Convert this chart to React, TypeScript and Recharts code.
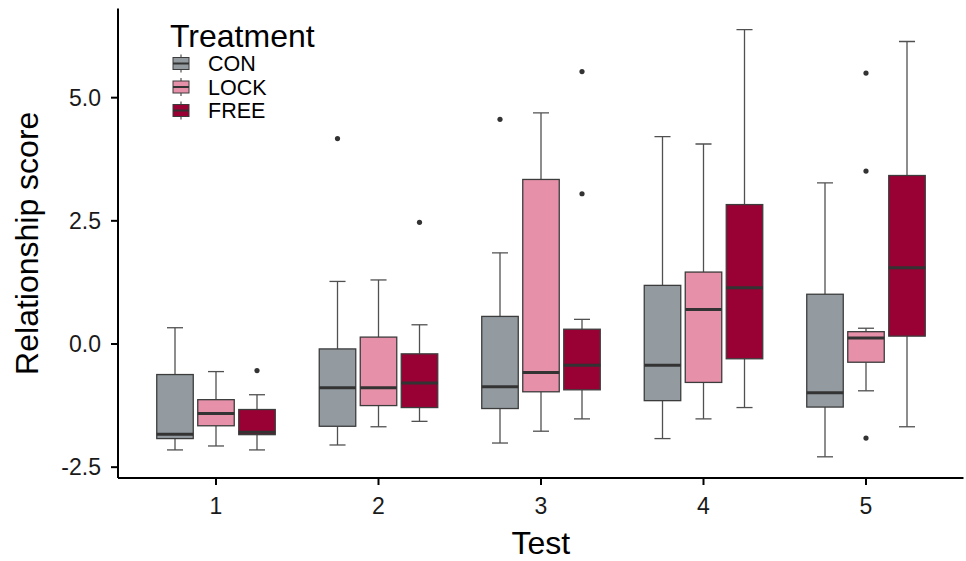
import React from 'react';
import { BarChart, Bar, XAxis, YAxis, Label } from 'recharts';

// five-number summaries per test: [lower whisker, Q1, median, Q3, upper whisker]
const tests = ['1', '2', '3', '4', '5'];
const treatments = ['CON', 'LOCK', 'FREE'];

const conStats = [
  [-2.15, -1.92, -1.83, -0.62, 0.33],
  [-2.05, -1.67, -0.89, -0.1, 1.27],
  [-2.01, -1.31, -0.87, 0.56, 1.85],
  [-1.92, -1.15, -0.43, 1.19, 4.21],
  [-2.29, -1.28, -0.99, 1.01, 3.27],
];
const lockStats = [
  [-2.07, -1.66, -1.41, -1.13, -0.56],
  [-1.68, -1.25, -0.89, 0.14, 1.3],
  [-1.77, -0.97, -0.58, 3.34, 4.69],
  [-1.52, -0.78, 0.7, 1.46, 4.06],
  [-0.95, -0.37, 0.12, 0.25, 0.32],
];
const freeStats = [
  [-2.15, -1.84, -1.79, -1.33, -1.03],
  [-1.57, -1.29, -0.79, -0.2, 0.39],
  [-1.52, -0.93, -0.43, 0.3, 0.5],
  [-1.29, -0.3, 1.14, 2.83, 6.38],
  [-1.68, 0.16, 1.55, 3.42, 6.14],
];

const conOutliers = [[], [4.17], [4.56], [], []];
const lockOutliers = [[], [], [], [], [5.5, 3.51, -1.91]];
const freeOutliers = [[-0.54], [2.47], [5.53, 3.05], [], []];

const yTicks = [-2.5, 0, 2.5, 5];

const COLORS: Record<string, string> = {
  CON: '#939BA0',
  LOCK: '#E690A9',
  FREE: '#990033',
};

const FONT = '"Liberation Sans", Arial, sans-serif';

const data = tests.map((test, i) => ({
  test,
  CON: conStats[i],
  LOCK: lockStats[i],
  FREE: freeStats[i],
  CON_out: conOutliers[i],
  LOCK_out: lockOutliers[i],
  FREE_out: freeOutliers[i],
}));

const BoxShape = (props: any) => {
  const { x, y, width, height, payload, tkey } = props;
  const [lo, q1, med, q3, hi] = payload[tkey] as number[];
  const outs = payload[`${tkey}_out`] as number[];
  const top = Math.min(y, y + height);
  const bot = Math.max(y, y + height);
  // pixels per data unit, taken from the bar the y scale gave us
  const ppu = (bot - top) / (hi - lo);
  const py = (v: number) => bot - (v - lo) * ppu;
  const cx = x + width / 2;
  const capHalf = width * 0.22;
  const wStroke = '#505050';

  return (
    <g>
      <line x1={cx} x2={cx} y1={py(hi)} y2={py(q3)} stroke={wStroke} strokeWidth={1.3} />
      <line x1={cx} x2={cx} y1={py(q1)} y2={py(lo)} stroke={wStroke} strokeWidth={1.3} />
      <line x1={cx - capHalf} x2={cx + capHalf} y1={py(hi)} y2={py(hi)} stroke={wStroke} strokeWidth={1.3} />
      <line x1={cx - capHalf} x2={cx + capHalf} y1={py(lo)} y2={py(lo)} stroke={wStroke} strokeWidth={1.3} />
      <rect
        x={x}
        y={py(q3)}
        width={width}
        height={py(q1) - py(q3)}
        fill={COLORS[tkey]}
        stroke="#3c3c3c"
        strokeWidth={1.3}
      />
      <line x1={x} x2={x + width} y1={py(med)} y2={py(med)} stroke="#333333" strokeWidth={3} />
      {outs.map((v, j) => (
        <circle key={j} cx={cx} cy={py(v)} r={2.6} fill="#333333" />
      ))}
    </g>
  );
};

const LegendBox = () => (
  <svg width={200} height={110} style={{ display: 'block' }}>
    <text x={10} y={32} fontFamily={FONT} fontSize={32} fill="#000">
      Treatment
    </text>
    {treatments.map((t, i) => {
      const cy = 48.5 + i * 23.5;
      return (
        <g key={t}>
          <line x1={21} x2={21} y1={cy - 9} y2={cy + 9} stroke="#505050" strokeWidth={1.2} />
          <rect x={13} y={cy - 6} width={16} height={12} fill={COLORS[t]} stroke="#3c3c3c" strokeWidth={1} />
          <line x1={13} x2={29} y1={cy} y2={cy} stroke="#333333" strokeWidth={2} />
          <text x={48} y={cy + 7.7} fontFamily={FONT} fontSize={21.5} fill="#000">
            {t}
          </text>
        </g>
      );
    })}
  </svg>
);

const App: React.FC = () => {
  return (
    <div style={{ position: 'absolute', left: 0, top: 0, width: 966, height: 561, background: '#fff' }}>
      <BarChart
        width={966}
        height={561}
        data={data}
        margin={{ top: 8.5, right: 2.5, bottom: 0, left: 0 }}
        barSize={36.5}
        barGap={4.5}
      >
        <XAxis
          dataKey="test"
          type="category"
          height={83}
          padding={{ left: 16.75, right: 16.25 }}
          axisLine={{ stroke: '#000', strokeWidth: 2 }}
          tickLine={{ stroke: '#000', strokeWidth: 2 }}
          tickSize={7}
          tickMargin={13}
          tick={{ fill: '#1a1a1a', fontSize: 23, fontFamily: FONT }}
        >
          <Label
            value="Test"
            position="insideBottom"
            offset={7}
            style={{ fontSize: 32, fontFamily: FONT, fill: '#000' }}
          />
        </XAxis>
        <YAxis
          type="number"
          width={118}
          domain={[-2.72, 6.81]}
          allowDataOverflow
          ticks={yTicks}
          tickFormatter={(v: number) => v.toFixed(1)}
          axisLine={{ stroke: '#000', strokeWidth: 2 }}
          tickLine={{ stroke: '#000', strokeWidth: 2 }}
          tickSize={7}
          tickMargin={10}
          tick={{ fill: '#1a1a1a', fontSize: 23, fontFamily: FONT }}
        >
          <Label
            value="Relationship score"
            angle={-90}
            position="insideLeft"
            offset={27}
            style={{ fontSize: 32, fontFamily: FONT, fill: '#000', textAnchor: 'middle' }}
          />
        </YAxis>
        {treatments.map((t) => (
          <Bar
            key={t}
            name={t}
            dataKey={(d: any) => [d[t][0], d[t][4]]}
            fill={COLORS[t]}
            isAnimationActive={false}
            shape={(p: any) => <BoxShape {...p} tkey={t} />}
            activeBar={false}
          />
        ))}
      </BarChart>
      <div style={{ position: 'absolute', left: 160, top: 15 }}>
        <LegendBox />
      </div>
    </div>
  );
};

export default App;
